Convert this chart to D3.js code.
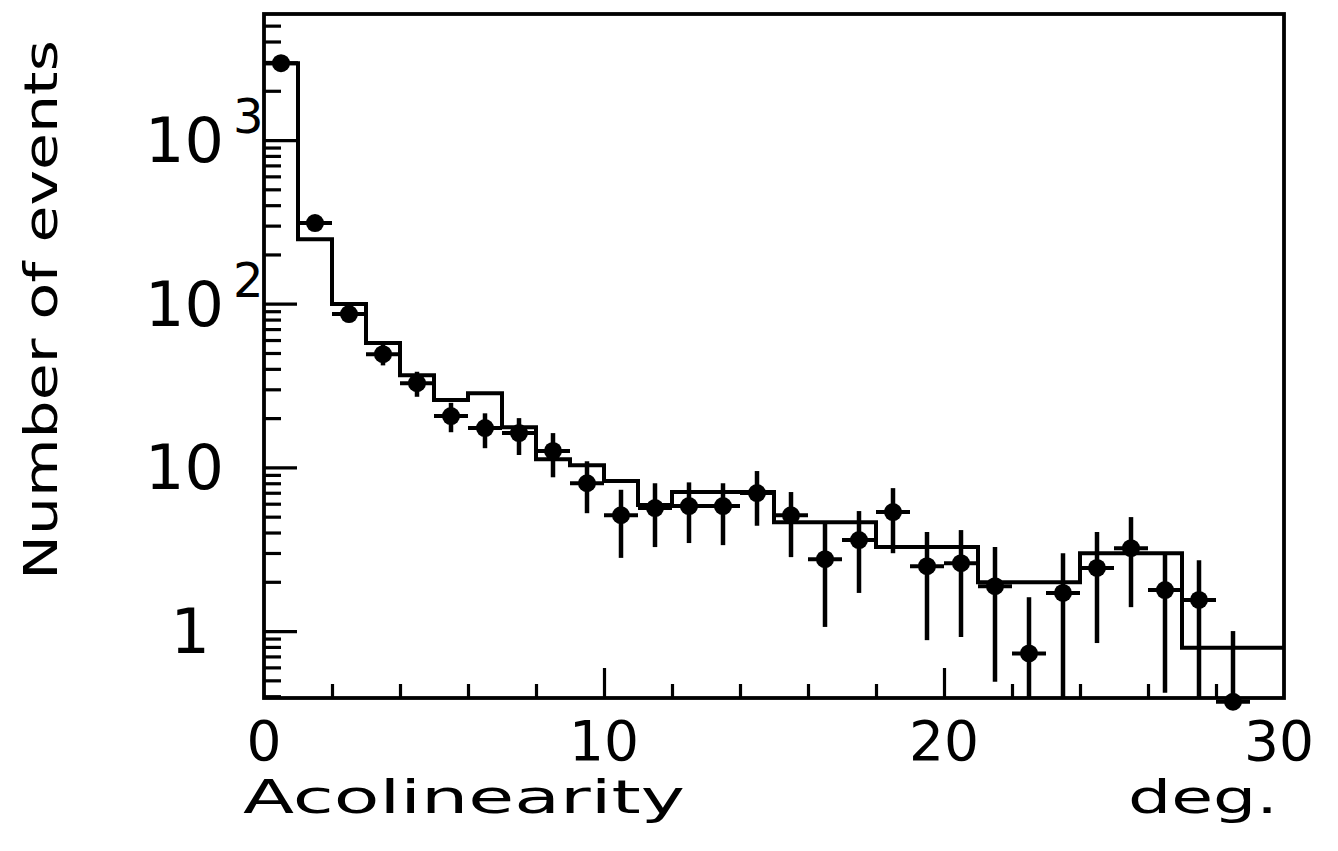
<!DOCTYPE html>
<html>
<head>
<meta charset="utf-8">
<script src="https://cdn.jsdelivr.net/npm/d3@7/dist/d3.min.js"></script>
<style>
  html, body { margin: 0; padding: 0; background: #fff; }
  svg { display: block; }
  text { font-family: "DejaVu Sans", "Liberation Sans", sans-serif; fill: #000; }
</style>
</head>
<body>
<svg id="chart" width="1338" height="851"></svg>
<script>
// Acolinearity distribution: measured events (points with errors) and simulation (histogram)
const binEdges   = [0, 1, 2, 3, 4, 5, 6, 7, 8, 9, 10, 11, 12, 13, 14, 15, 16, 17, 18, 19, 20, 21, 22, 23, 24, 25, 26, 27, 28, 29, 30];
const binCentres = [0.5, 1.5, 2.5, 3.5, 4.5, 5.5, 6.5, 7.5, 8.5, 9.5, 10.5, 11.5, 12.5, 13.5, 14.5, 15.5, 16.5, 17.5, 18.5, 19.5, 20.5, 21.5, 22.5, 23.5, 24.5, 25.5, 26.5, 27.5, 28.5];

// simulated counts per 1-degree bin
const mcCounts = [2950, 248, 99.5, 57.5, 36.6, 25.8, 28.4, 17.6, 11.2, 10.3, 8.25, 5.89, 7.07, 7.07, 7.07,
                  4.63, 4.63, 4.63, 3.26, 3.26, 3.26, 1.99, 1.99, 1.99, 2.99, 2.99, 2.99, 0.79, 0.79, 0.79];

// measured counts and their error-bar ends
const dataCounts = [2950, 311, 86.4, 49.2, 32.7, 20.6, 17.4, 16.2, 12.6, 8.0, 5.1, 5.64, 5.8, 5.8, 6.97,
                    5.1, 2.75, 3.6, 5.33, 2.49, 2.60, 1.88, 0.73, 1.71, 2.43, 3.21, 1.78, 1.55, 0.37];
const dataUpper  = [3005, 329, 95.7, 56, 38.4, 24.8, 21.4, 20.0, 16.2, 10.9, 7.3, 8.0, 8.1, 8.0, 9.5,
                    7.07, 4.57, 5.41, 7.47, 4.03, 4.14, 3.26, 1.61, 2.99, 4.03, 4.97, 3.04, 2.71, 1.0];
const dataLower  = [2895, 293, 77.1, 42, 27.0, 16.4, 13.1, 11.9, 8.7, 5.25, 2.8, 3.26, 3.45, 3.35, 4.4,
                    2.83, 1.06, 1.71, 2.99, 0.88, 0.92, 0.49, 0.3, 0.3, 0.845, 1.40, 0.42, 0.3, 0.37];

const xTickLabels = [0, 10, 20, 30];
const yDecades    = [1, 10, 100, 1000];
const yLabelBase  = ["1", "10", "10", "10"];
const yLabelExp   = ["", "", "2", "3"];

const svg = d3.select("#chart");
const W = 1338, H = 851;
svg.append("rect").attr("width", W).attr("height", H).attr("fill", "#fff");

const plot = { left: 264, right: 1284, top: 14, bottom: 698 };

const x = d3.scaleLinear().domain([0, 30]).range([plot.left, plot.right]);
const y = d3.scaleLog().domain([0.39, 5890]).range([plot.bottom, plot.top]);
const yMin = y.domain()[0];

// tick positions on the log axis: 2..9 within each decade, decades themselves major
const minorY = [];
[0.1, 1, 10, 100, 1000].forEach(d => {
  for (let k = 2; k <= 9; k++) {
    const v = d * k;
    if (v >= yMin && v <= y.domain()[1]) minorY.push(v);
  }
});

const lw = 3.2;

// left axis ticks (pointing inward)
const yMinorAxis = d3.axisLeft(y).tickValues(minorY).tickSizeInner(-17).tickSizeOuter(0).tickFormat("");
const yMajorAxis = d3.axisLeft(y).tickValues(yDecades).tickSizeInner(-33).tickSizeOuter(0).tickFormat("");
[yMinorAxis, yMajorAxis].forEach(ax => {
  const g = svg.append("g").attr("transform", `translate(${plot.left},0)`).call(ax);
  g.select(".domain").remove();
  g.selectAll("line").attr("stroke", "#000").attr("stroke-width", lw);
});

// bottom axis ticks (pointing inward)
const xMinorAxis = d3.axisBottom(x).tickValues([2, 4, 6, 8, 12, 14, 16, 18, 22, 24, 26, 28]).tickSizeInner(-14).tickSizeOuter(0).tickFormat("");
const xMajorAxis = d3.axisBottom(x).tickValues([10, 20]).tickSizeInner(-30).tickSizeOuter(0).tickFormat("");
[xMinorAxis, xMajorAxis].forEach(ax => {
  const g = svg.append("g").attr("transform", `translate(0,${plot.bottom})`).call(ax);
  g.select(".domain").remove();
  g.selectAll("line").attr("stroke", "#000").attr("stroke-width", lw);
});

// frame
svg.append("rect")
  .attr("x", plot.left).attr("y", plot.top)
  .attr("width", plot.right - plot.left).attr("height", plot.bottom - plot.top)
  .attr("fill", "none").attr("stroke", "#000").attr("stroke-width", 3.8);

// simulated histogram as a step outline
const stepPts = binEdges.map((e, i) => [e, mcCounts[Math.min(i, mcCounts.length - 1)]]);
svg.append("path")
  .datum(stepPts)
  .attr("d", d3.line().x(d => x(d[0])).y(d => y(d[1])).curve(d3.curveStepAfter))
  .attr("fill", "none").attr("stroke", "#000").attr("stroke-width", 4)
  .attr("stroke-linejoin", "miter");

// measured points
const pts = binCentres.map((c, i) => ({ c, v: dataCounts[i], hi: dataUpper[i], lo: dataLower[i] }));
const gPts = svg.append("g");
gPts.selectAll("line.ev").data(pts).join("line")
  .attr("class", "ev")
  .attr("x1", d => x(d.c)).attr("x2", d => x(d.c))
  .attr("y1", d => y(d.hi)).attr("y2", d => y(Math.max(d.lo, yMin)))
  .attr("stroke", "#000").attr("stroke-width", 4.5);
gPts.selectAll("line.eh").data(pts).join("line")
  .attr("class", "eh")
  .attr("x1", d => x(d.c - 0.5)).attr("x2", d => x(d.c + 0.5))
  .attr("y1", d => y(d.v)).attr("y2", d => y(d.v))
  .attr("stroke", "#000").attr("stroke-width", 4);
gPts.selectAll("circle").data(pts).join("circle")
  .attr("cx", d => x(d.c)).attr("cy", d => y(d.v)).attr("r", 9)
  .attr("fill", "#000");

// y tick labels with exponents
yDecades.forEach((v, i) => {
  const t = svg.append("text")
    .attr("y", y(v) + 22)
    .attr("font-size", 62);
  if (yLabelExp[i]) {
    t.attr("x", 224).attr("text-anchor", "end").text(yLabelBase[i]);
    svg.append("text")
      .attr("x", 233).attr("y", y(v) - 7)
      .attr("font-size", 48)
      .text(yLabelExp[i]);
  } else {
    t.attr("x", yLabelBase[i] === "1" ? 210 : 224).attr("text-anchor", "end").text(yLabelBase[i]);
  }
});

// x tick labels
svg.selectAll("text.xt").data(xTickLabels).join("text")
  .attr("class", "xt")
  .attr("x", d => x(d) - (d === 30 ? 5 : 0))
  .attr("y", 760)
  .attr("text-anchor", "middle")
  .attr("font-size", 55)
  .text(d => d);

// axis titles
svg.append("text")
  .attr("x", 243).attr("y", 813)
  .attr("font-size", 47)
  .attr("textLength", 442).attr("lengthAdjust", "spacingAndGlyphs")
  .text("Acolinearity");
svg.append("text")
  .attr("x", 1128).attr("y", 813)
  .attr("font-size", 47)
  .attr("textLength", 150).attr("lengthAdjust", "spacingAndGlyphs")
  .text("deg.");
svg.append("text")
  .attr("transform", "translate(57,580) rotate(-90)")
  .attr("font-size", 47)
  .attr("textLength", 540).attr("lengthAdjust", "spacingAndGlyphs")
  .text("Number of events");
</script>
</body>
</html>
